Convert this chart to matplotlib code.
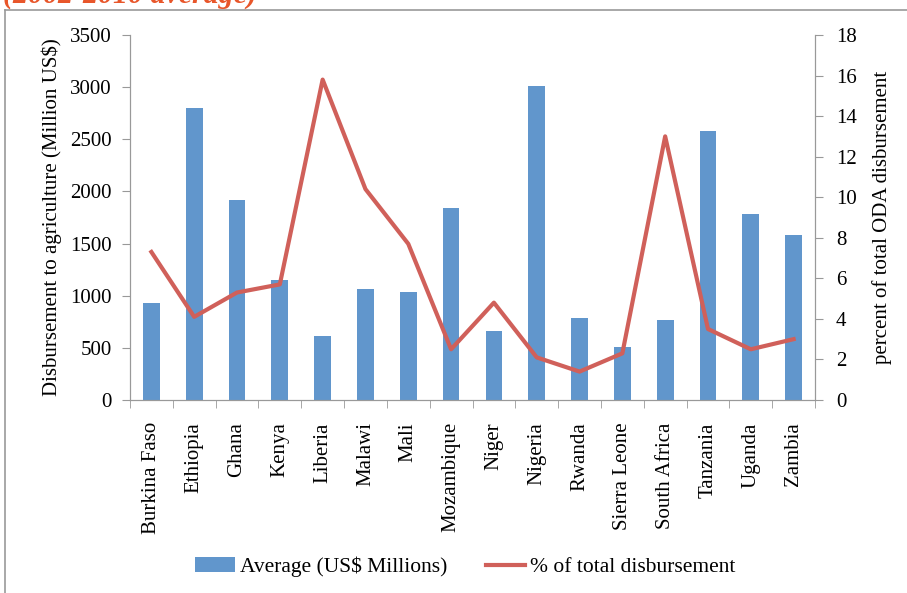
import matplotlib.pyplot as plt
import numpy as np
from matplotlib.lines import Line2D
from matplotlib.patches import Patch

plt.rcParams['font.family'] = 'Liberation Serif'

countries = ["Burkina Faso", "Ethiopia", "Ghana", "Kenya", "Liberia", "Malawi",
             "Mali", "Mozambique", "Niger", "Nigeria", "Rwanda", "Sierra Leone",
             "South Africa", "Tanzania", "Uganda", "Zambia"]
average_musd = [930, 2800, 1920, 1150, 610, 1060, 1035, 1840, 665, 3010,
                790, 505, 770, 2575, 1780, 1585]
pct_total = [7.3, 4.1, 5.3, 5.7, 15.8, 10.4, 7.7, 2.5, 4.8, 2.1,
             1.4, 2.3, 13.0, 3.5, 2.5, 3.0]

bar_color = '#6196CC'
line_color = '#D0605A'
axis_color = '#999999'
fs = 15

fig = plt.figure(figsize=(9.07, 5.93), dpi=100)
ax1 = fig.add_axes([0.1433, 0.3255, 0.7553, 0.6155])

x = np.arange(len(countries))
ax1.bar(x, average_musd, width=0.39, color=bar_color, zorder=2)
ax1.set_xlim(-0.5, len(countries) - 0.5)
ax1.set_ylim(0, 3500)
ax1.set_yticks(np.arange(0, 3501, 500))
ax1.set_ylabel("Disbursement to agriculture (Million US$)", fontsize=fs, labelpad=6)

# category labels centred, tick marks at category boundaries
ax1.set_xticks(x)
ax1.set_xticklabels(countries, rotation=90, fontsize=fs)
ax1.set_xticks(np.arange(-0.5, len(countries)), minor=True)
ax1.tick_params(axis='x', which='major', length=0, pad=16)
ax1.tick_params(axis='x', which='minor', length=6, color=axis_color, direction='out')
ax1.tick_params(axis='y', length=6, color=axis_color, labelsize=fs, direction='out', pad=7)

ax2 = ax1.twinx()
ax2.plot(x, pct_total, color=line_color, linewidth=3, zorder=3)
ax2.set_ylim(0, 18)
ax2.set_yticks(np.arange(0, 19, 2))
ax2.set_ylabel("percent of total ODA disbursement", fontsize=fs, labelpad=11)
ax2.tick_params(axis='y', length=6, color=axis_color, labelsize=fs, direction='out', pad=9)

for ax in (ax1, ax2):
    ax.spines['top'].set_visible(False)
    for s in ('left', 'right', 'bottom'):
        ax.spines[s].set_color(axis_color)

handles = [Patch(facecolor=bar_color, label="Average (US$ Millions)"),
           Line2D([], [], color=line_color, linewidth=3, label="% of total disbursement")]
fig.legend(handles=handles, loc='center', bbox_to_anchor=(0.513, 0.044), ncol=2,
           frameon=False, fontsize=15.5, handlelength=1.85, handletextpad=0.2,
           columnspacing=1.8)

# cropped slide frame and cut-off title
fig.add_artist(Line2D([0.0055, 1.0], [0.983, 0.983], color='#9a9a9a', linewidth=1.2,
                      transform=fig.transFigure))
fig.add_artist(Line2D([0.0055, 0.0055], [0.0, 0.983], color='#9a9a9a', linewidth=1.2,
                      transform=fig.transFigure))
fig.text(0.003, 1.008, "(2002-2010 average)", color='#E8562A', fontsize=21.5,
         fontweight='bold', fontstyle='italic', ha='left', va='center')

fig.savefig("out.png", dpi=100)
